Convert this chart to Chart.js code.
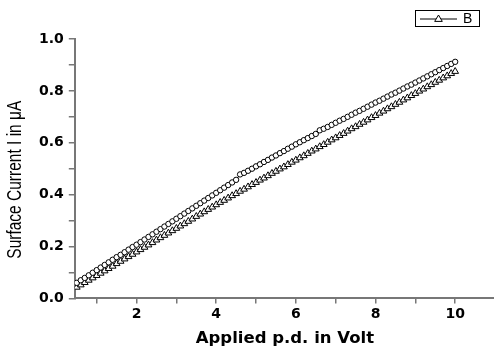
<!DOCTYPE html>
<html>
<head>
<meta charset="utf-8">
<script src="https://cdn.jsdelivr.net/npm/chart.js@4/dist/chart.umd.min.js"></script>
<style>
html,body{margin:0;padding:0;background:#fff;overflow:hidden;}
#wrap{width:500px;height:349px;position:relative;}
</style>
</head>
<body>
<div id="wrap"><canvas id="c" width="500" height="349"></canvas></div>
<script>
// Applied p.d. (V)
const voltage = [0.5,0.6,0.7,0.8,0.9,1.0,1.1,1.2,1.3,1.4,1.5,1.6,1.7,1.8,1.9,2.0,2.1,2.2,2.3,2.4,2.5,2.6,2.7,2.8,2.9,3.0,3.1,3.2,3.3,3.4,3.5,3.6,3.7,3.8,3.9,4.0,4.1,4.2,4.3,4.4,4.5,4.6,4.7,4.8,4.9,5.0,5.1,5.2,5.3,5.4,5.5,5.6,5.7,5.8,5.9,6.0,6.1,6.2,6.3,6.4,6.5,6.6,6.7,6.8,6.9,7.0,7.1,7.2,7.3,7.4,7.5,7.6,7.7,7.8,7.9,8.0,8.1,8.2,8.3,8.4,8.5,8.6,8.7,8.8,8.9,9.0,9.1,9.2,9.3,9.4,9.5,9.6,9.7,9.8,9.9,10.0];
// Circle series (unlabelled)
const currentA = [0.060,0.070,0.079,0.089,0.099,0.109,0.119,0.129,0.139,0.149,0.159,0.168,0.178,0.188,0.198,0.207,0.217,0.227,0.237,0.247,0.257,0.267,0.277,0.287,0.297,0.307,0.317,0.327,0.337,0.347,0.357,0.367,0.377,0.387,0.397,0.407,0.417,0.427,0.437,0.447,0.457,0.478,0.484,0.492,0.500,0.509,0.517,0.526,0.534,0.543,0.551,0.560,0.568,0.577,0.585,0.594,0.602,0.610,0.618,0.626,0.634,0.648,0.654,0.661,0.669,0.677,0.685,0.692,0.700,0.708,0.716,0.723,0.731,0.739,0.747,0.755,0.762,0.770,0.778,0.786,0.793,0.801,0.809,0.817,0.824,0.832,0.840,0.848,0.856,0.864,0.872,0.880,0.888,0.896,0.904,0.912];
// Triangle series "B"
const currentB = [0.043,0.052,0.061,0.070,0.079,0.088,0.097,0.106,0.115,0.124,0.134,0.143,0.152,0.161,0.170,0.179,0.188,0.197,0.206,0.215,0.225,0.234,0.243,0.252,0.261,0.270,0.279,0.288,0.297,0.306,0.316,0.325,0.334,0.343,0.352,0.361,0.370,0.378,0.387,0.396,0.404,0.413,0.421,0.430,0.439,0.447,0.456,0.464,0.473,0.482,0.490,0.499,0.507,0.516,0.525,0.533,0.542,0.550,0.559,0.568,0.576,0.585,0.593,0.602,0.611,0.619,0.628,0.636,0.645,0.654,0.662,0.671,0.679,0.688,0.697,0.705,0.714,0.722,0.731,0.739,0.748,0.756,0.765,0.773,0.782,0.790,0.799,0.807,0.816,0.824,0.833,0.841,0.850,0.858,0.867,0.875];

const xTickValues = [1,2,3,4,5,6,7,8,9,10];
const xTickLabels = ['', '2', '', '4', '', '6', '', '8', '', '10'];
const yTickValues = [0,0.1,0.2,0.3,0.4,0.5,0.6,0.7,0.8,0.9,1.0];
const yTickLabels = ['0.0','','0.2','','0.4','','0.6','','0.8','','1.0'];
const seriesLabelB = 'B';
const xTitle = 'Applied p.d. in Volt';
const yTitle = 'Surface Current I in \u03BCA';

const toPts = ys => voltage.map((x,i)=>({x:x,y:ys[i]}));

const yTitlePlugin = {
  id:'yTitle',
  afterDraw(chart){
    const ctx = chart.ctx;
    const a = chart.chartArea;
    ctx.save();
    ctx.translate(16, (a.top+a.bottom)/2 + 11);
    ctx.scale(1.25,1);
    ctx.rotate(-Math.PI/2);
    ctx.font = '15.5px "Liberation Sans", Arial, sans-serif';
    ctx.fillStyle = '#000';
    ctx.textAlign = 'center';
    ctx.textBaseline = 'middle';
    ctx.fillText(yTitle, 0, 0);
    ctx.restore();
  }
};

const legendPlugin = {
  id:'boxLegend',
  afterDraw(chart){
    const ctx = chart.ctx;
    ctx.save();
    ctx.strokeStyle = '#000';
    ctx.lineWidth = 1;
    ctx.strokeRect(415.5, 10.5, 64, 16);
    ctx.beginPath();
    ctx.moveTo(420, 19); ctx.lineTo(457, 19);
    ctx.stroke();
    const cx = 438.5, cy = 19, r = 4;
    ctx.beginPath();
    ctx.moveTo(cx, cy - r);
    ctx.lineTo(cx + r*0.95, cy + r*0.6);
    ctx.lineTo(cx - r*0.95, cy + r*0.6);
    ctx.closePath();
    ctx.fillStyle = '#fff';
    ctx.fill();
    ctx.stroke();
    ctx.fillStyle = '#000';
    ctx.font = '14px "Liberation Sans", Arial, sans-serif';
    ctx.textAlign = 'left';
    ctx.textBaseline = 'middle';
    ctx.fillText(seriesLabelB, 463, 19.5);
    ctx.restore();
  }
};

new Chart(document.getElementById('c'), {
  type:'line',
  data:{
    datasets:[
      {label:'A', data:toPts(currentA), borderColor:'#000', borderWidth:1, pointStyle:'circle', pointRadius:2.7, pointBorderWidth:1, pointBorderColor:'#000', pointBackgroundColor:'#fff', showLine:true, fill:false, tension:0},
      {label:seriesLabelB, data:toPts(currentB), borderColor:'#000', borderWidth:1, pointStyle:'triangle', pointRadius:3.9, pointBorderWidth:1, pointBorderColor:'#000', pointBackgroundColor:'#fff', showLine:true, fill:false, tension:0}
    ]
  },
  options:{
    responsive:false,
    animation:false,
    devicePixelRatio:1,
    layout:{padding:{left:34, top:39, right:4, bottom:0}},
    plugins:{legend:{display:false}, tooltip:{enabled:false}},
    scales:{
      x:{
        type:'linear', min:0.45, max:11,
        afterBuildTicks(s){ s.ticks = xTickValues.map(v=>({value:v})); },
        ticks:{autoSkip:false, maxRotation:0, padding:3, color:'#000',
          font:{family:'"DejaVu Sans"', weight:'bold', size:14},
          callback:(v,i)=>xTickLabels[i]},
        grid:{display:true, drawOnChartArea:false, drawTicks:true, tickLength:5, color:'#777', lineWidth:1.5},
        border:{display:true, color:'#777', width:2},
        title:{display:true, text:xTitle, color:'#000', font:{family:'"DejaVu Sans"', weight:'bold', size:16.5}, padding:{top:3,bottom:0}}
      },
      y:{
        type:'linear', min:0, max:1.0,
        afterBuildTicks(s){ s.ticks = yTickValues.map(v=>({value:v})); },
        ticks:{autoSkip:false, padding:5, color:'#000',
          font:{family:'"DejaVu Sans"', weight:'bold', size:14},
          callback:(v,i)=>yTickLabels[i]},
        grid:{display:true, drawOnChartArea:false, drawTicks:true, tickLength:6, color:'#777', lineWidth:1.5},
        border:{display:true, color:'#777', width:2}
      }
    }
  },
  plugins:[yTitlePlugin, legendPlugin]
});
</script>
</body>
</html>
